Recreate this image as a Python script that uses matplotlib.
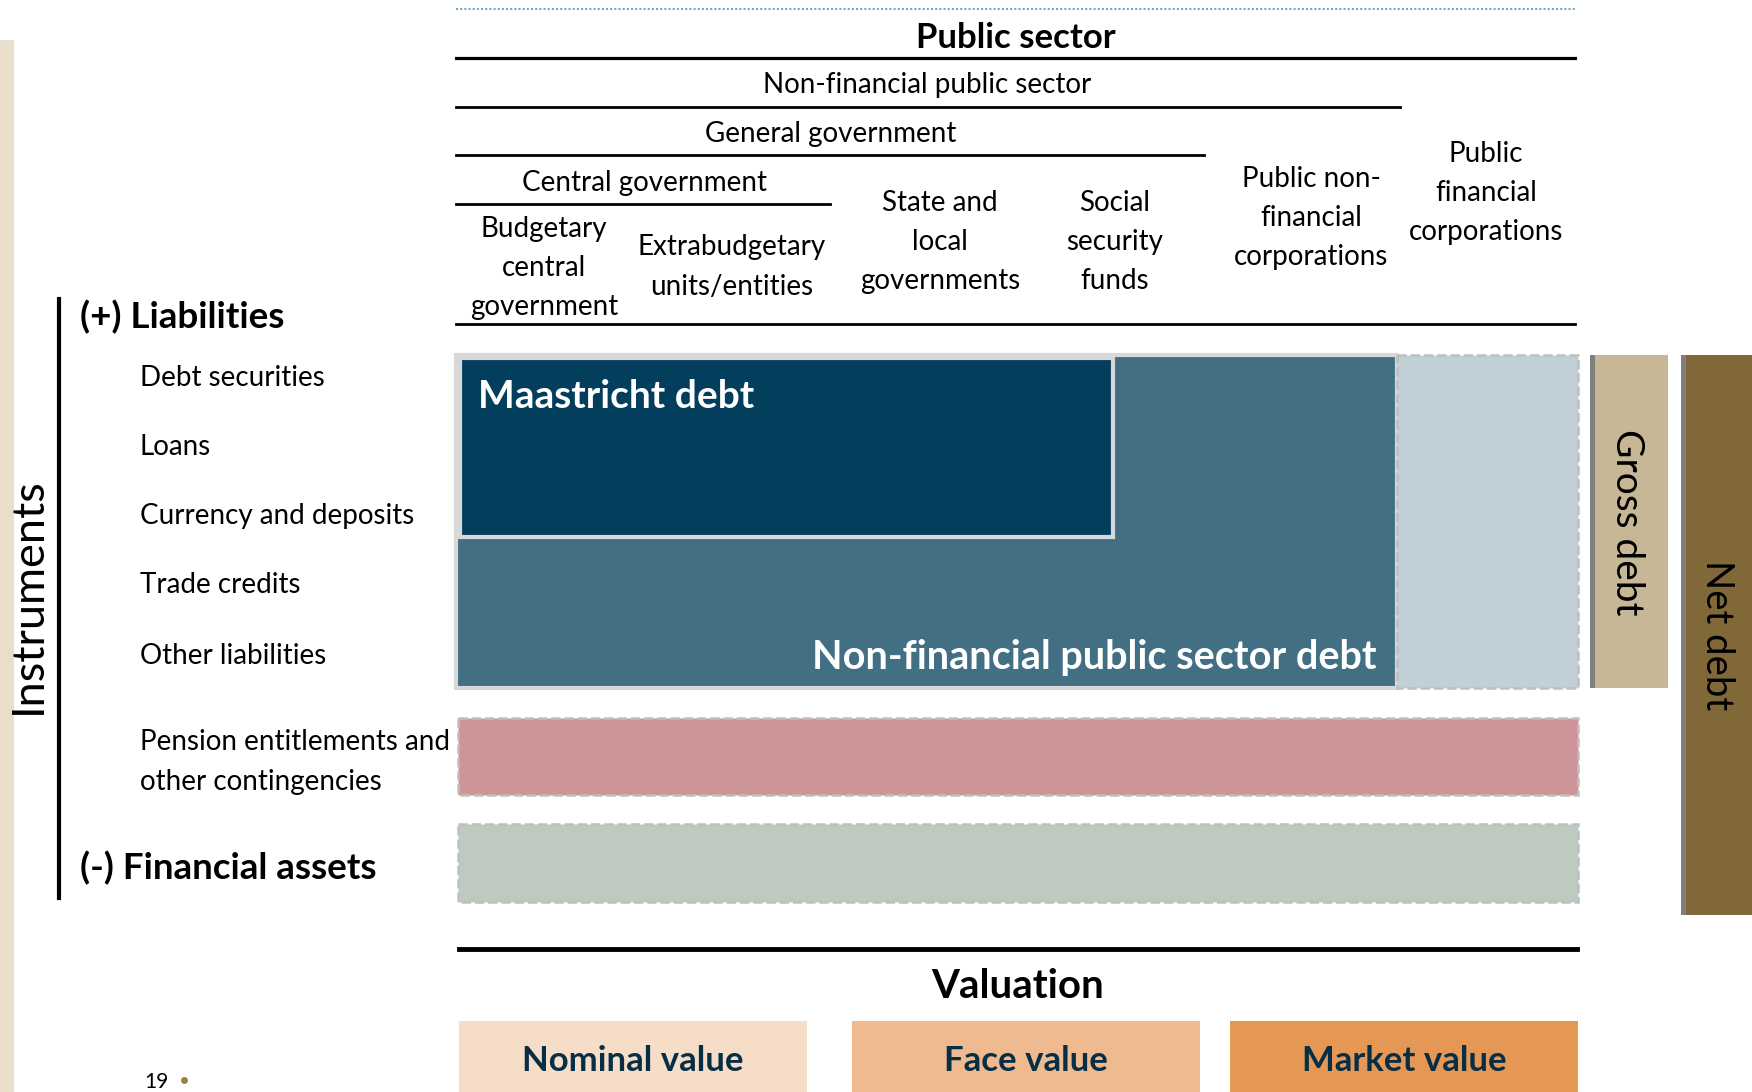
import matplotlib
matplotlib.use("Agg")
import matplotlib.pyplot as plt
from matplotlib.patches import Rectangle

plt.rcParams['font.family'] = ['Lato', 'DejaVu Sans']

# header hierarchy (top to bottom)
header_levels = ["Public sector", "Non-financial public sector",
                 "General government", "Central government"]
subsectors = ["Budgetary\ncentral\ngovernment", "Extrabudgetary\nunits/entities",
              "State and\nlocal\ngovernments", "Social\nsecurity\nfunds",
              "Public non-\nfinancial\ncorporations", "Public\nfinancial\ncorporations"]
instruments = ["Debt securities", "Loans", "Currency and deposits",
               "Trade credits", "Other liabilities"]
contingencies = "Pension entitlements and\nother contingencies"
group_labels = ["(+) Liabilities", "(-) Financial assets"]
debt_blocks = ["Maastricht debt", "Non-financial public sector debt"]
debt_bars = ["Gross debt", "Net debt"]
valuations = ["Nominal value", "Face value", "Market value"]
page_no = "19"

navy = "#033F5C"
steel = "#436F84"
light_blue = "#C1CFD6"
pink = "#CE9599"
sage = "#BEC9C0"
tan = "#C8B796"
brown = "#806838"
val_colors = ["#F6DDC7", "#EFBA8F", "#E59855"]
text_navy = "#062E45"

fig = plt.figure(figsize=(17.52, 10.92), dpi=100)
ax = fig.add_axes([0, 0, 1, 1])
ax.set_xlim(0, 1752)
ax.set_ylim(1092, 0)
ax.axis('off')

# page strip on the left
ax.add_patch(Rectangle((0, 40), 14, 1052, color="#E8DECA", lw=0))

# --- header ---
ax.plot([456, 1575], [9, 9], color="#6FA8C8", lw=1.5, ls=(0, (1, 1)))
ax.plot([456, 1575], [58, 58], color="black", lw=2.3)
ax.plot([456, 1400], [107, 107], color="black", lw=2)
ax.plot([456, 1204], [155, 155], color="black", lw=2)
ax.plot([456, 830], [204, 204], color="black", lw=2)
ax.plot([456, 1575], [324, 324], color="black", lw=2)

ax.text(1016, 38, header_levels[0], ha='center', va='center', fontsize=25, fontweight='bold')
ax.text(927, 85, header_levels[1], ha='center', va='center', fontsize=20)
ax.text(831, 134, header_levels[2], ha='center', va='center', fontsize=20)
ax.text(644, 183, header_levels[3], ha='center', va='center', fontsize=20)

sub_x = [544, 732, 940, 1115, 1311, 1486]
sub_y = [268, 267, 242, 242, 218, 193]
for lab, x, y in zip(subsectors, sub_x, sub_y):
    ax.text(x, y, lab, ha='center', va='center', fontsize=20, linespacing=1.62)

# --- left labels ---
ax.plot([59, 59], [299, 898], color="black", lw=3)
ax.text(28, 596, "Instruments", rotation=90, ha='center', va='center', fontsize=32.5)
ax.text(80, 317, group_labels[0], ha='left', va='center', fontsize=26.5, fontweight='bold')
ax.text(80, 868, group_labels[1], ha='left', va='center', fontsize=26.5, fontweight='bold')
inst_y = [378, 447, 516, 585, 656]
for lab, y in zip(instruments, inst_y):
    ax.text(140, y, lab, ha='left', va='center', fontsize=20)
ax.text(140, 762, contingencies, ha='left', va='center', fontsize=20, linespacing=1.65)

# --- debt blocks ---
ax.add_patch(Rectangle((456, 355), 941, 333, facecolor=steel, edgecolor="#D8D8D8", lw=3))
ax.add_patch(Rectangle((460, 358), 653, 179, facecolor=navy, edgecolor="#D8D8D8", lw=3))
ax.add_patch(Rectangle((1397, 355), 181, 333, facecolor=light_blue, edgecolor="#BFBFBF",
                       lw=1.8, ls='--'))
ax.text(478, 396, debt_blocks[0], color="white", ha='left', va='center',
        fontsize=28, fontweight='bold')
ax.text(1377, 657, debt_blocks[1], color="white", ha='right', va='center',
        fontsize=28.5, fontweight='bold')

ax.add_patch(Rectangle((458, 718), 1120, 77, facecolor=pink, edgecolor="#BFBFBF", lw=1.8, ls='--'))
ax.add_patch(Rectangle((458, 824), 1120, 78, facecolor=sage, edgecolor="#BFBFBF", lw=1.8, ls='--'))

# gross / net debt bars
ax.add_patch(Rectangle((1590, 355), 78, 333, facecolor=tan, lw=0))
ax.add_patch(Rectangle((1590, 355), 5, 333, facecolor="#7F7F7F", lw=0))
ax.add_patch(Rectangle((1681, 355), 80, 560, facecolor=brown, lw=0))
ax.add_patch(Rectangle((1681, 355), 5, 560, facecolor="#7F7F7F", lw=0))
ax.text(1627, 522, debt_bars[0], rotation=270, ha='center', va='center', fontsize=28)
ax.text(1717, 635, debt_bars[1], rotation=270, ha='center', va='center', fontsize=27.5)

# --- valuation ---
ax.plot([459, 1577], [949, 949], color="black", lw=3.5)
ax.text(1018, 987, "Valuation", ha='center', va='center', fontsize=29, fontweight='bold')
val_x = [459, 852, 1230]
for lab, x, c in zip(valuations, val_x, val_colors):
    ax.add_patch(Rectangle((x, 1021), 348, 80, facecolor=c, lw=0))
    ax.text(x + 174, 1061, lab, color=text_navy, ha='center', va='center',
            fontsize=25, fontweight='bold')

ax.text(156, 1082, page_no, ha='center', va='center', fontsize=15)
ax.plot([184], [1080], marker='o', ms=4, color="#A08040")

fig.savefig("out.png", dpi=100)
